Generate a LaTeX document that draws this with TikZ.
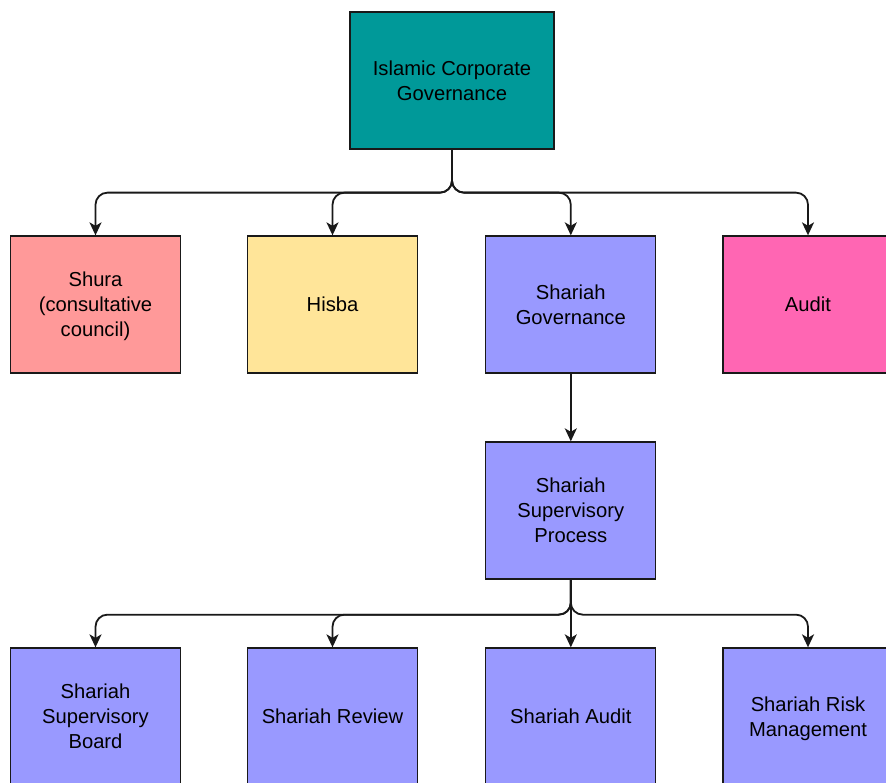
\documentclass[tikz,border=0pt]{standalone}
\usepackage{fontspec}
\setmainfont{Liberation Sans}
\usetikzlibrary{arrows.meta}
\definecolor{cteal}{HTML}{009999}
\definecolor{cpink}{HTML}{FF9999}
\definecolor{cyellow}{HTML}{FFE599}
\definecolor{cpurple}{HTML}{9999FF}
\definecolor{cmagenta}{HTML}{FF66B3}
\tikzset{
  box/.style={draw=black!90, line width=1.3pt, rectangle, minimum width=170pt, minimum height=137pt,
    align=center, font=\fontsize{20.2}{25}\selectfont, inner sep=0pt, text depth=0pt},
  arr/.style={draw=black!90, line width=1.8pt, rounded corners=12pt, -{Stealth[length=13pt,width=12pt,inset=3.5pt]}}
}
\begin{document}
\begin{tikzpicture}[x=1pt,y=-1pt]
\useasboundingbox (0,0) rectangle (886,783);
\node[box, fill=cteal, minimum width=204pt] (top) at (452,80.5) {Islamic Corporate\\Governance};
\node[box, fill=cpink] (shura) at (95.5,304.5) {Shura\\(consultative\\council)};
\node[box, fill=cyellow] (hisba) at (332.5,304.5) {Hisba};
\node[box, fill=cpurple] (sg) at (570.8,304.5) {Shariah\\Governance};
\node[box, fill=cmagenta] (audit) at (808,304.5) {Audit};
\node[box, fill=cpurple] (ssp) at (570.8,510.5) {Shariah\\Supervisory\\Process};
\node[box, fill=cpurple] (ssb) at (95.5,716.5) {Shariah\\Supervisory\\Board};
\node[box, fill=cpurple] (sr) at (332.5,716.5) {Shariah Review};
\node[box, fill=cpurple] (sa) at (570.8,716.5) {Shariah Audit};
\node[box, fill=cpurple] (srm) at (808,716.5) {Shariah Risk\\Management};
\path (top.south) ++(0,43) coordinate (bus1);
\path (ssp.south) ++(0,35) coordinate (bus2);
\draw[arr] (top.south) -- (bus1) -| (shura.north);
\draw[arr] (top.south) -- (bus1) -| (hisba.north);
\draw[arr] (top.south) -- (bus1) -| (sg.north);
\draw[arr] (top.south) -- (bus1) -| (audit.north);
\draw[arr] (sg.south) -- (ssp.north);
\draw[arr] (ssp.south) -- (bus2) -| (ssb.north);
\draw[arr] (ssp.south) -- (bus2) -| (sr.north);
\draw[arr] (ssp.south) -- (sa.north);
\draw[arr] (ssp.south) -- (bus2) -| (srm.north);
\end{tikzpicture}
\end{document}
